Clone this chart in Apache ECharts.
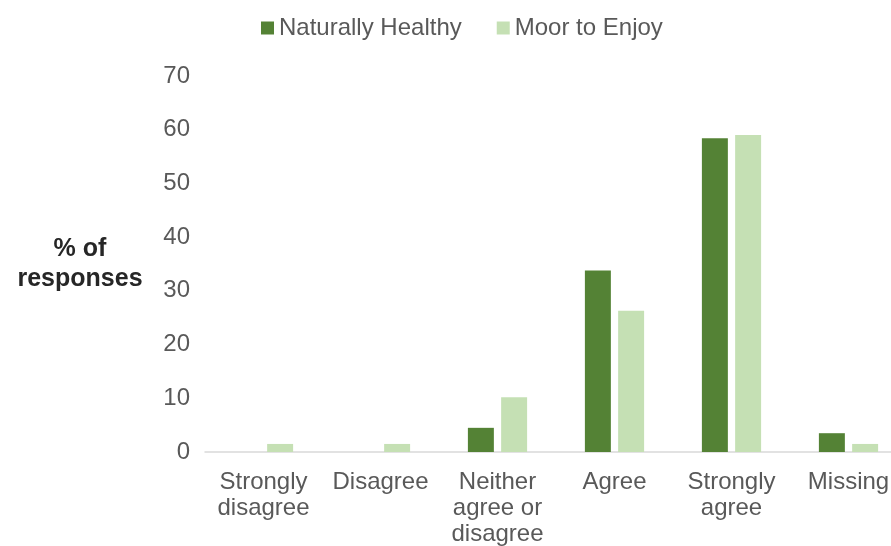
<!DOCTYPE html>
<html>
<head>
<meta charset="utf-8">
<script src="https://cdn.jsdelivr.net/npm/echarts@6/dist/echarts.min.js"></script>
<style>
  html, body { margin: 0; padding: 0; background: #fff; }
  #chart { width: 891px; height: 546px; }
</style>
</head>
<body>
<div id="chart"></div>
<script>
var categories = ['Strongly\ndisagree', 'Disagree', 'Neither\nagree or\ndisagree', 'Agree', 'Strongly\nagree', 'Missing']
var naturallyHealthy = [0, 0, 4.5, 33.8, 58.4, 3.5]
var moorToEnjoy = [1.5, 1.5, 10.2, 26.3, 59.0, 1.5]

var textColor = '#595959'
var font = 'Liberation Sans'

var chart = echarts.init(document.getElementById('chart'))
chart.setOption({
  animation: false,
  legend: {
    top: 11,
    left: 256,
    itemWidth: 13,
    itemHeight: 13,
    itemGap: 35,
    icon: 'rect',
    textStyle: { color: textColor, fontSize: 24, fontFamily: font },
    data: ['Naturally Healthy', 'Moor to Enjoy']
  },
  // the last category runs past the right edge of the picture
  grid: {
    left: 205,
    width: 702,
    top: 76,
    bottom: 94,
    outerBoundsMode: 'none'
  },
  xAxis: {
    type: 'category',
    data: categories,
    axisLine: { lineStyle: { color: '#D9D9D9', width: 1.5 } },
    axisTick: { show: false },
    axisLabel: {
      color: textColor,
      fontSize: 24,
      fontFamily: font,
      lineHeight: 26,
      margin: 17,
      interval: 0
    }
  },
  yAxis: {
    type: 'value',
    min: 0,
    max: 70,
    interval: 10,
    name: '% of\nresponses',
    nameLocation: 'middle',
    nameGap: 125,
    nameRotate: 0,
    nameTextStyle: {
      color: '#262626',
      fontSize: 25,
      fontWeight: 'bold',
      fontFamily: font,
      align: 'center',
      lineHeight: 30
    },
    axisLine: { show: false },
    axisTick: { show: false },
    splitLine: { show: false },
    axisLabel: {
      color: textColor,
      fontSize: 24,
      fontFamily: font,
      margin: 15
    }
  },
  series: [
    {
      name: 'Naturally Healthy',
      type: 'bar',
      data: naturallyHealthy,
      barWidth: '22.2%',
      barGap: '28%',
      itemStyle: { color: '#548235' }
    },
    {
      name: 'Moor to Enjoy',
      type: 'bar',
      data: moorToEnjoy,
      barWidth: '22.2%',
      itemStyle: { color: '#C5E0B4' }
    }
  ]
})
</script>
</body>
</html>
